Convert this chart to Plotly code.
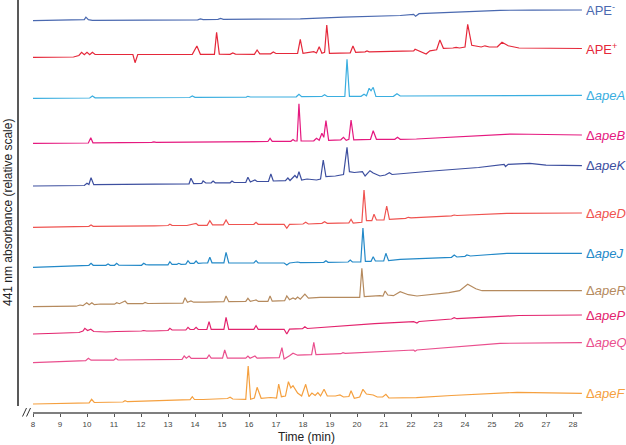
import plotly.graph_objects as go

# ---------------- data (time in min, signal in relative absorbance units) ----------------
ape_minus_t = [8.0, 9.7, 9.9, 9.96, 10.05, 10.2, 12.0, 14.1, 14.2, 14.3, 14.85, 14.95, 15.05, 16.5, 17.9, 19.5, 21.6, 22.1, 22.17, 22.3, 24.6, 25.3, 26.5, 28.33]
ape_minus_y = [0, 0.3, 1.0, 3.5, 1.0, 0.4, 0.6, 0.9, 1.8, 1.0, 1.3, 2.2, 1.4, 1.8, 1.8, 3.5, 5.2, 6.4, 4.4, 7.0, 9.2, 10.4, 10.6, 10.7]

ape_plus_t = [8.0, 9.5, 9.7, 9.8, 9.9, 10.0, 10.1, 10.2, 10.3, 11.3, 11.4, 11.5, 11.7, 11.78, 11.88, 13.9, 14.07, 14.2, 14.72, 14.8, 14.9, 15.3, 15.4, 15.5, 16.2, 16.3, 16.4, 16.8, 16.9, 17.0, 17.8, 17.9, 18.0, 18.4, 18.5, 18.6, 18.7, 18.8, 18.88, 18.98, 19.75, 19.85, 19.95, 20.3, 20.37, 20.45, 22.1, 22.15, 22.3, 22.56, 22.7, 22.95, 23.07, 23.2, 23.55, 23.67, 23.8, 24.0, 24.1, 24.25, 24.6, 24.74, 24.9, 25.2, 25.37, 25.6, 26.0, 28.33]
ape_plus_y = [0, 0.3, 1.8, 5.0, 2.5, 5.0, 2.5, 5.0, 2.8, 2.8, 3.3, 2.8, 2.8, -5.4, 2.8, 3.0, 11.3, 3.0, 3.0, 25.0, 3.2, 3.0, 4.3, 3.2, 3.0, 7.3, 3.5, 3.5, 5.3, 3.8, 4.0, 18.0, 4.0, 5.6, 4.3, 10.6, 4.0, 5.0, 32.3, 4.0, 4.5, 11.3, 5.0, 5.5, 6.3, 5.5, 6.5, 8.0, 6.5, 3.3, 6.5, 7.5, 17.3, 9.0, 9.3, 10.0, 9.3, 10.3, 33.0, 12.0, 10.3, 11.5, 10.3, 10.5, 15.0, 11.5, 9.3, 8.8]

ape_a_t = [8.0, 10.1, 10.2, 10.3, 13.8, 13.9, 14.0, 15.9, 15.96, 16.05, 17.75, 17.85, 17.95, 18.7, 18.8, 18.9, 19.55, 19.63, 19.72, 20.15, 20.26, 20.35, 20.45, 20.52, 20.6, 20.7, 21.35, 21.48, 21.6, 28.33]
ape_a_y = [0, 0.3, 2.3, 0.5, 0.8, 2.3, 1.0, 1.2, 2.0, 1.3, 1.5, 4.0, 1.6, 1.8, 3.6, 1.8, 1.8, 39.0, 2.0, 2.0, 4.0, 2.5, 10.0, 7.5, 11.0, 1.8, 2.0, 4.6, 2.3, 3.0]

ape_b_t = [8.0, 10.05, 10.14, 10.22, 12.4, 12.48, 12.56, 14.2, 14.3, 14.4, 16.7, 16.78, 16.86, 17.55, 17.63, 17.7, 17.78, 17.85, 17.93, 18.4, 18.5, 18.6, 18.7, 18.77, 18.85, 18.95, 19.4, 19.5, 19.6, 19.7, 19.78, 19.88, 20.5, 20.6, 20.72, 21.4, 21.5, 21.6, 22.2, 25.7, 28.33]
ape_b_y = [0, 0.3, 5.6, 0.5, 1.0, 1.5, 1.0, 1.3, 1.8, 1.5, 1.8, 5.0, 2.0, 2.0, 3.8, 2.3, 2.3, 39.5, 2.3, 2.5, 5.0, 3.0, 10.0, 6.0, 22.6, 3.0, 3.5, 6.0, 3.0, 4.0, 23.3, 3.5, 4.0, 12.6, 4.0, 4.0, 6.0, 4.0, 4.3, 9.3, 8.3]

ape_k_t = [8.0, 9.9, 10.0, 10.07, 10.15, 10.25, 12.5, 13.25, 13.33, 13.4, 13.78, 13.85, 13.95, 14.25, 14.3, 14.4, 14.6, 14.67, 14.75, 15.3, 15.37, 15.45, 15.88, 15.96, 16.05, 16.22, 16.3, 16.72, 16.81, 16.9, 17.35, 17.44, 17.52, 17.7, 17.78, 17.85, 17.95, 18.15, 18.4, 18.5, 18.65, 18.75, 18.85, 19.2, 19.5, 19.63, 19.72, 19.9, 20.2, 20.3, 20.48, 20.6, 20.85, 21.05, 21.2, 21.3, 22.8, 24.5, 25.45, 25.5, 25.6, 26.4, 27.0, 28.33]
ape_k_y = [0, 0.5, 2.7, 1.5, 8.3, 1.3, 1.8, 2.0, 2.7, 2.2, 2.2, 7.7, 2.4, 2.6, 5.0, 3.0, 3.2, 5.0, 3.2, 3.2, 5.0, 3.5, 3.5, 8.7, 4.0, 6.0, 4.5, 4.5, 12.0, 5.0, 5.3, 8.0, 5.5, 10.5, 8.0, 14.3, 6.0, 7.0, 6.5, 6.0, 7.0, 26.0, 9.3, 10.0, 11.5, 38.7, 14.3, 13.5, 14.3, 10.0, 15.3, 13.0, 10.0, 11.0, 13.3, 11.5, 15.0, 18.5, 21.5, 19.5, 21.7, 22.7, 20.8, 20.3]

ape_d_t = [8.0, 10.07, 10.15, 10.23, 12.5, 13.0, 13.07, 13.15, 13.7, 13.8, 14.04, 14.12, 14.45, 14.55, 14.65, 15.05, 15.15, 15.25, 16.18, 16.26, 16.34, 17.3, 17.4, 17.5, 18.0, 18.1, 18.2, 18.7, 18.8, 18.9, 19.7, 19.78, 19.86, 20.18, 20.26, 20.35, 20.55, 20.63, 20.72, 21.0, 21.1, 21.2, 21.8, 21.9, 22.0, 23.5, 23.6, 23.7, 25.55, 28.33]
ape_d_y = [0, 1.0, 2.3, 1.0, 1.5, 1.8, 3.0, 2.0, 1.8, 2.3, 4.0, 2.0, 2.0, 6.6, 2.5, 2.5, 7.3, 2.8, 3.0, 5.0, 3.0, 3.0, -1.0, 3.0, 3.3, 5.0, 3.3, 4.0, 5.6, 4.0, 4.5, 8.0, 4.3, 5.0, 37.3, 6.6, 6.6, 13.0, 7.3, 7.3, 21.3, 8.0, 9.0, 10.0, 9.5, 11.5, 12.3, 11.8, 14.0, 14.3]

ape_j_t = [8.0, 9.6, 9.67, 9.75, 10.07, 10.15, 10.23, 10.7, 10.78, 10.86, 11.02, 11.1, 11.18, 12.02, 12.1, 12.18, 12.3, 13.0, 13.07, 13.15, 13.33, 13.4, 13.48, 13.66, 13.74, 13.82, 13.96, 14.04, 14.12, 14.3, 14.47, 14.55, 14.63, 15.07, 15.15, 15.25, 16.18, 16.26, 16.34, 17.3, 17.4, 17.5, 17.72, 17.8, 17.9, 18.77, 18.85, 18.93, 19.67, 19.75, 19.83, 20.14, 20.22, 20.31, 20.52, 20.6, 20.68, 20.99, 21.07, 21.17, 21.6, 23.5, 23.6, 23.7, 24.0, 24.07, 24.2, 25.55, 28.33]
ape_j_y = [0, 1.5, 2.3, 1.8, 2.0, 4.0, 2.0, 2.0, 3.3, 2.0, 2.0, 4.0, 2.2, 2.0, 4.0, 2.7, 2.5, 2.5, 5.6, 3.0, 3.0, 4.0, 3.0, 3.2, 6.6, 4.0, 4.0, 6.3, 4.0, 4.3, 4.5, 10.0, 4.5, 4.5, 15.0, 4.5, 4.3, 6.6, 4.3, 4.3, 2.3, 4.3, 4.6, 5.3, 4.6, 5.0, 6.6, 5.0, 5.3, 7.3, 5.3, 5.5, 39.3, 6.0, 6.0, 10.6, 6.3, 6.3, 14.0, 6.6, 8.0, 10.0, 12.3, 10.3, 11.0, 12.3, 11.3, 14.0, 14.0]

ape_r_t = [8.0, 9.6, 9.74, 9.85, 9.99, 10.08, 10.18, 10.27, 10.5, 11.02, 11.1, 11.2, 11.41, 11.5, 12.07, 12.15, 12.25, 13.55, 13.63, 13.72, 13.85, 13.95, 14.22, 14.3, 14.38, 15.07, 15.15, 15.25, 15.88, 15.96, 16.05, 16.26, 16.35, 16.7, 16.78, 16.86, 17.32, 17.4, 17.5, 17.63, 17.72, 17.8, 17.9, 18.07, 18.2, 18.63, 19.74, 20.1, 20.18, 20.27, 20.85, 20.96, 21.04, 21.14, 21.35, 21.6, 21.9, 22.22, 23.4, 23.8, 24.1, 24.4, 24.63, 28.33]
ape_r_y = [0, 0.5, 1.7, 1.0, 4.0, 2.0, 4.0, 2.0, 2.7, 2.5, 4.0, 3.0, 5.7, 3.0, 3.0, 4.2, 3.2, 3.5, 9.0, 4.5, 5.7, 4.5, 4.5, 4.7, 4.5, 5.0, 10.7, 5.0, 5.3, 8.4, 5.3, 6.7, 5.3, 5.3, 10.7, 5.5, 6.0, 10.7, 7.0, 8.7, 7.5, 9.7, 7.5, 12.5, 8.5, 9.4, 9.4, 9.4, 38.4, 10.0, 11.0, 10.5, 15.7, 11.7, 11.0, 15.0, 12.0, 10.7, 14.0, 16.0, 22.4, 18.0, 16.0, 16.0]

ape_p_t = [8.0, 9.7, 9.85, 9.92, 10.02, 10.14, 10.25, 10.7, 11.1, 11.3, 12.02, 12.1, 12.2, 12.44, 12.6, 13.0, 13.07, 13.15, 13.66, 13.74, 13.82, 13.96, 14.04, 14.12, 14.44, 14.52, 14.6, 15.07, 15.15, 15.25, 16.18, 16.26, 16.34, 17.3, 17.4, 17.5, 17.98, 18.07, 18.16, 20.45, 20.55, 20.65, 22.1, 22.22, 22.3, 23.5, 23.6, 23.7, 26.0, 28.33]
ape_p_y = [0, 1.5, 3.0, 5.7, 3.5, 4.7, 2.5, 2.0, 2.5, 2.5, 3.0, 3.5, 3.0, 3.0, 3.2, 3.5, 5.7, 4.0, 4.0, 6.7, 4.5, 4.5, 6.7, 4.5, 4.6, 12.3, 4.6, 4.7, 16.7, 4.7, 4.7, 8.3, 4.7, 4.7, 0.0, 4.8, 5.3, 7.3, 5.5, 10.0, 10.7, 10.3, 12.3, 11.0, 12.5, 15.0, 16.3, 15.3, 18.5, 19.0]

ape_q_t = [8.0, 9.95, 10.05, 10.15, 10.99, 11.07, 11.15, 12.1, 13.52, 13.6, 13.68, 13.78, 13.86, 14.44, 14.52, 14.6, 15.02, 15.1, 15.2, 15.88, 15.96, 16.04, 16.22, 16.3, 17.12, 17.22, 17.3, 17.5, 17.63, 17.8, 18.32, 18.4, 18.48, 19.4, 19.48, 19.56, 22.1, 22.15, 22.22, 25.3, 28.33]
ape_q_y = [0, 2.0, 4.4, 2.5, 2.5, 4.4, 2.7, 3.0, 3.3, 6.7, 4.5, 6.7, 4.3, 4.3, 7.7, 4.5, 4.5, 12.7, 4.5, 4.5, 6.7, 4.5, 6.7, 4.5, 5.0, 15.0, 3.7, 7.0, 9.4, 7.5, 8.0, 20.4, 8.0, 9.0, 10.0, 9.3, 12.7, 11.5, 12.7, 19.4, 20.0]

ape_f_t = [8.0, 9.9, 10.0, 10.08, 10.17, 10.27, 11.33, 11.41, 11.5, 13.0, 13.82, 13.9, 13.98, 14.3, 15.2, 15.3, 15.4, 15.88, 15.97, 16.06, 16.2, 16.3, 16.45, 16.8, 17.02, 17.1, 17.2, 17.35, 17.46, 17.55, 17.63, 17.8, 17.95, 18.1, 18.22, 18.33, 18.45, 18.55, 18.65, 18.78, 18.9, 19.2, 19.37, 19.5, 19.7, 19.78, 19.9, 20.1, 20.22, 20.35, 20.6, 20.75, 20.95, 21.07, 21.18, 22.2, 23.5, 25.93, 28.33]
ape_f_y = [0, 1.0, 1.7, 1.2, 4.7, 1.5, 2.0, 3.3, 2.3, 3.5, 4.3, 7.3, 4.5, 4.5, 5.5, 6.7, 5.0, 4.7, 38.0, 4.7, 6.0, 16.7, 5.7, 6.5, 6.0, 20.0, 7.3, 8.0, 22.3, 16.0, 18.3, 11.0, 8.0, 19.7, 7.3, 11.0, 8.5, 11.3, 8.0, 14.7, 8.0, 8.0, 9.0, 7.0, 7.5, 13.3, 5.7, 7.0, 14.7, 10.0, 9.0, 7.0, 7.0, 9.7, 6.0, 6.3, 8.5, 11.7, 10.7]

trace_names = ["APE<sup>-</sup>", "APE<sup>+</sup>", "Δ<i>apeA</i>", "Δ<i>apeB</i>", "Δ<i>apeK</i>",
               "Δ<i>apeD</i>", "Δ<i>apeJ</i>", "Δ<i>apeR</i>", "Δ<i>apeP</i>", "Δ<i>apeQ</i>", "Δ<i>apeF</i>"]
trace_times = [ape_minus_t, ape_plus_t, ape_a_t, ape_b_t, ape_k_t, ape_d_t, ape_j_t, ape_r_t, ape_p_t, ape_q_t, ape_f_t]
trace_signals = [ape_minus_y, ape_plus_y, ape_a_y, ape_b_y, ape_k_y, ape_d_y, ape_j_y, ape_r_y, ape_p_y, ape_q_y, ape_f_y]

# vertical stacking offsets (layout)
trace_offsets = [392.3, 355.7, 314.7, 269.7, 227.0, 185.7, 145.7, 106.3, 79.0, 50.3, 9.0]
trace_colors = ["#4a69b0", "#e5283a", "#3aaee0", "#e5197f", "#3d4f9f", "#ef5350",
                "#2389c8", "#b58a5e", "#e3246e", "#ea4f8e", "#f5a03f"]

x_ticks = list(range(8, 29))

# ---------------- figure ----------------
W, H = 626, 445
ML, MR, MT, MB = 18, 43, 0, 32
PW, PH = W - ML - MR, H - MT - MB
FONT = "Liberation Sans, Arial, sans-serif"

def px_to_paper(px, py):
    return (px - ML) / PW, (H - MB - py) / PH

fig = go.Figure()
annotations = []
for name, ts, ys, off, col in zip(trace_names, trace_times, trace_signals, trace_offsets, trace_colors):
    fig.add_trace(go.Scatter(x=ts, y=[v + off for v in ys], mode="lines",
                             line=dict(color=col, width=1.2), hoverinfo="skip", showlegend=False))
    annotations.append(dict(x=1, xref="paper", y=ys[-1] + off, yref="y", text=name,
                            showarrow=False, xanchor="left", yanchor="middle", xshift=1,
                            font=dict(family=FONT, size=13, color=col)))

x0 = 8 - (33 - ML) / 27.0
x1 = x0 + PW / 27.0

annotations.append(dict(x=px_to_paper(8, 0)[0], xref="paper", y=px_to_paper(0, 213)[1], yref="paper",
                        text="441 nm absorbance (relative scale)", textangle=-90, showarrow=False,
                        xanchor="center", yanchor="middle", font=dict(family=FONT, size=12, color="#222")))
annotations.append(dict(x=px_to_paper(306, 0)[0], xref="paper", y=px_to_paper(0, 437)[1], yref="paper",
                        text="Time (min)", showarrow=False, xanchor="center", yanchor="middle",
                        font=dict(family=FONT, size=12, color="#222")))

shapes = []
# x axis line
shapes.append(dict(type="line", xref="x", yref="paper", x0=8, x1=28.33, y0=0, y1=0,
                   line=dict(color="#555", width=1.5)))
# y axis line
ya, yb = px_to_paper(0, 406)[1], 1
shapes.append(dict(type="line", xref="paper", yref="paper", x0=0, x1=0, y0=ya, y1=yb,
                   line=dict(color="#222", width=1.5)))
# axis break marks
for (ax, ay, bx, by) in [(22.5, 416.5, 26.5, 408), (26.5, 416.5, 30.5, 408)]:
    p0 = px_to_paper(ax, ay)
    p1 = px_to_paper(bx, by)
    shapes.append(dict(type="line", xref="paper", yref="paper", x0=p0[0], y0=p0[1], x1=p1[0], y1=p1[1],
                       line=dict(color="#333", width=1)))

fig.update_layout(
    width=W, height=H,
    margin=dict(l=ML, r=MR, t=MT, b=MB),
    plot_bgcolor="white", paper_bgcolor="white",
    annotations=annotations, shapes=shapes,
    xaxis=dict(range=[x0, x1], showgrid=False, zeroline=False, showline=False,
               tickmode="array", tickvals=x_ticks, ticktext=[str(v) for v in x_ticks],
               ticks="outside", ticklen=3, tickwidth=1, tickcolor="#555",
               tickfont=dict(family=FONT, size=8, color="#444")),
    yaxis=dict(range=[0, PH], showgrid=False, zeroline=False, showline=False,
               showticklabels=False, ticks=""),
)

fig.write_html("out.html", config={"displayModeBar": False},
               post_script="document.body.style.margin='0';document.body.style.overflow='hidden';")
